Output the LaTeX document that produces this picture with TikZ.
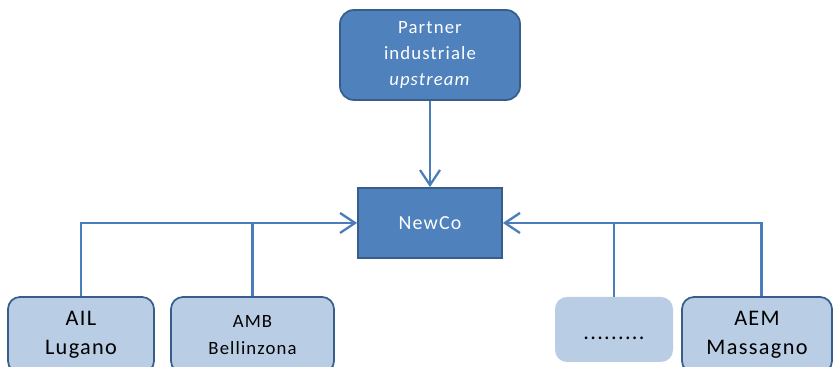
\documentclass[tikz,border=0pt]{standalone}
\usepackage{fontspec}
\setmainfont{Carlito}[LetterSpace=6]
\usetikzlibrary{arrows.meta}
\definecolor{accblue}{HTML}{4F81BD}
\definecolor{accborder}{HTML}{385D8A}
\definecolor{acclight}{HTML}{B9CDE5}
\definecolor{connline}{HTML}{4A7EBB}

\begin{document}
\begin{tikzpicture}[
  darkbox/.style={draw=accborder,fill=accblue,line width=1.5pt,text=white,align=center},
  lightbox/.style={draw=accborder,fill=acclight,line width=1.5pt,align=center,rounded corners=0.36cm,minimum height=2.28cm},
  link/.style={draw=connline,line width=2pt},
  arrowlink/.style={-{Straight Barb[length=0.45cm,width=0.6cm]}}
]
\useasboundingbox (0,0) rectangle (25.02,11.01);
\node[darkbox,rounded corners=0.42cm,minimum width=5.4cm,minimum height=2.7cm,font=\fontsize{16}{22}\selectfont] (partner) at (12.9,9.36) {Partner\\industriale\\\textit{upstream}};
\node[darkbox,minimum width=4.32cm,minimum height=2.1cm,font=\fontsize{17}{20}\selectfont] (newco) at (12.9,4.32) {NewCo};
% soci
\node[lightbox,minimum width=4.38cm,font=\fontsize{19}{25}\selectfont] (ail) at (2.43,0.96) {AIL\\Lugano};
\node[lightbox,minimum width=4.89cm,font=\fontsize{16}{23}\selectfont] (amb) at (7.575,0.96) {AMB\\Bellinzona};
\node[fill=acclight,rounded corners=0.36cm,minimum width=3.54cm,minimum height=1.95cm,text height=0.6cm,text depth=0pt,font=\fontsize{19}{22}\selectfont] (more) at (18.42,1.125) {.........};
\node[lightbox,minimum width=4.5cm,font=\fontsize{19}{25}\selectfont] (aem) at (22.71,0.96) {AEM\\Massagno};
% collegamenti
\draw[link,arrowlink] (partner) -- (newco);
\draw[link,arrowlink] (ail.north) |- (newco.west);
\draw[link] (amb.north) -- (amb.north |- newco.west);
\draw[link,arrowlink] ([xshift=0.13cm]aem.north) |- (newco.east);
\draw[link] (more.north) -- (more.north |- newco.east);
\end{tikzpicture}
\end{document}
